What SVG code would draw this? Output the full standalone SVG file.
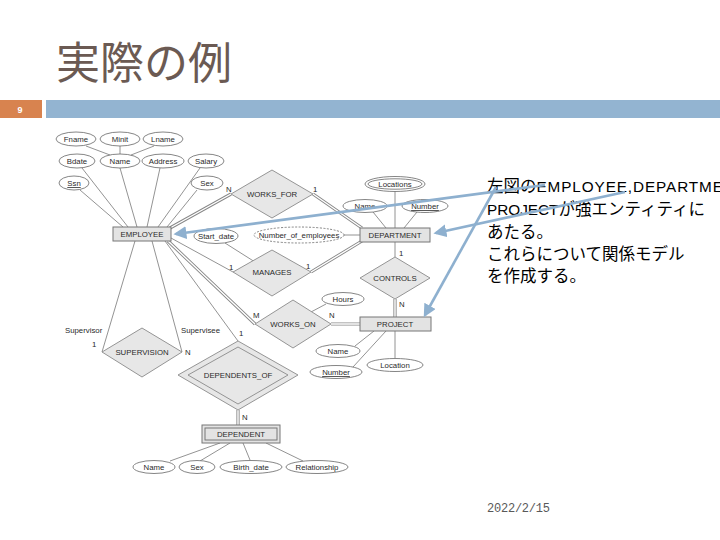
<svg xmlns="http://www.w3.org/2000/svg" width="720" height="540" viewBox="0 0 720 540">
<defs>
<style>
.ent{fill:#e3e3e3;stroke:#777;stroke-width:1}
.rel{fill:#e7e7e7;stroke:#8a8a8a;stroke-width:0.9}
.att{fill:#fff;stroke:#666;stroke-width:0.8}
.ln{stroke:#777;stroke-width:0.8;fill:none}
.dbl{stroke:#888;stroke-width:3.2;fill:none}
.dbw{stroke:#fff;stroke-width:1.4;fill:none}
.t{font-family:"Liberation Sans",Arial,sans-serif;font-size:7.8px;fill:#2a2a2a;text-anchor:middle}
.tl{font-family:"Liberation Sans",Arial,sans-serif;font-size:7.8px;fill:#2a2a2a}
.jp{font-family:"Liberation Sans","Noto Sans CJK JP",sans-serif;font-size:16.5px;fill:#000}
.lat{font-size:15.3px}
.arr{stroke:#8eb0cf;stroke-width:2.6;fill:none;marker-end:url(#ah)}
</style>
<marker id="ah" markerWidth="5" markerHeight="5" refX="4" refY="2.5" orient="auto" markerUnits="strokeWidth">
<path d="M0,0 L5,2.5 L0,5 Z" fill="#8eb0cf"/>
</marker>
</defs>
<rect width="720" height="540" fill="#fff"/>
<g id="title">
<text x="56" y="79" font-family="Noto Sans CJK JP,sans-serif" font-size="44" fill="#6b5a53">実際の例</text>
</g>
<g id="header-bar">
<rect x="0" y="100" width="42" height="18" fill="#d8834f"/>
<text x="20" y="113" font-family="Liberation Sans,Arial,sans-serif" font-size="9" font-weight="bold" fill="#fff" text-anchor="middle">9</text>
<rect x="46" y="100" width="674" height="18" fill="#93b4d1"/>
</g>
<g id="connectors">
<line class="ln" x1="86" y1="146" x2="110" y2="155"/>
<line class="ln" x1="120" y1="146" x2="120" y2="154"/>
<line class="ln" x1="154" y1="146" x2="131" y2="155"/>
<line class="ln" x1="82" y1="168" x2="128" y2="227"/>
<line class="ln" x1="120" y1="168" x2="137" y2="227"/>
<line class="ln" x1="160" y1="168" x2="147" y2="227"/>
<line class="ln" x1="200" y1="168" x2="158" y2="227"/>
<line class="ln" x1="80" y1="190" x2="123" y2="227"/>
<line class="ln" x1="197" y1="190" x2="167" y2="227"/>
<line class="ln" x1="395" y1="191" x2="395" y2="228"/>
<line class="ln" x1="373" y1="212" x2="386" y2="228"/>
<line class="ln" x1="417" y1="212" x2="404" y2="228"/>
<line class="ln" x1="374" y1="331" x2="355" y2="346"/>
<line class="ln" x1="386" y1="331" x2="353" y2="367"/>
<line class="ln" x1="395" y1="331" x2="395" y2="358"/>
<line class="ln" x1="220" y1="443" x2="170" y2="461"/>
<line class="ln" x1="230" y1="443" x2="200" y2="461"/>
<line class="ln" x1="243" y1="443" x2="250" y2="460"/>
<line class="ln" x1="266" y1="443" x2="303" y2="461"/>
<line class="ln" x1="171" y1="238" x2="233" y2="272"/>
<line class="ln" x1="225" y1="243" x2="255" y2="262"/>
<line class="ln" x1="344" y1="235" x2="360" y2="235"/>
<line class="ln" x1="395" y1="242" x2="395" y2="257"/>
<line class="ln" x1="326" y1="304" x2="311" y2="312"/>
<line class="ln" x1="135" y1="241" x2="102" y2="352"/>
<line class="ln" x1="152" y1="241" x2="182" y2="352"/>
<line class="ln" x1="165" y1="241" x2="238" y2="341"/>
<path class="dbl" d="M170,228 L231,194 M313,194 L362,228 M311,272 L362,241 M168,241 L255,324 M331,324 L360,324 M395,299 L395,317 M238,410 L238,425"/>
<path class="dbw" d="M170,228 L231,194 M313,194 L362,228 M311,272 L362,241 M168,241 L255,324 M331,324 L360,324 M395,299 L395,317 M238,410 L238,425"/>
</g>
<g id="cardinalities" class="tl">
<text x="226" y="192">N</text>
<text x="313" y="192">1</text>
<text x="229" y="270">1</text>
<text x="306" y="269">1</text>
<text x="253" y="318">M</text>
<text x="329" y="318">N</text>
<text x="399" y="256">1</text>
<text x="399" y="307">N</text>
<text x="92" y="347">1</text>
<text x="185" y="355">N</text>
<text x="239" y="336">1</text>
<text x="242" y="420">N</text>
<text x="65" y="333">Supervisor</text>
<text x="181" y="333">Supervisee</text>
</g>
<g id="Fname"><ellipse class="att" cx="76" cy="139" rx="20" ry="7"/><text class="t" x="76" y="142">Fname</text></g>
<g id="Minit"><ellipse class="att" cx="120" cy="139" rx="20" ry="7"/><text class="t" x="120" y="142">Minit</text></g>
<g id="Lname"><ellipse class="att" cx="163" cy="139" rx="20" ry="7"/><text class="t" x="163" y="142">Lname</text></g>
<g id="Bdate"><ellipse class="att" cx="77" cy="161" rx="18" ry="7"/><text class="t" x="77" y="164">Bdate</text></g>
<g id="EmpName"><ellipse class="att" cx="120" cy="161" rx="20" ry="7"/><text class="t" x="120" y="164">Name</text></g>
<g id="Address"><ellipse class="att" cx="163" cy="161" rx="21" ry="7"/><text class="t" x="163" y="164">Address</text></g>
<g id="Salary"><ellipse class="att" cx="206" cy="161" rx="18" ry="7"/><text class="t" x="206" y="164">Salary</text></g>
<g id="Ssn"><ellipse class="att" cx="74" cy="183" rx="15" ry="7"/><text class="t" x="74" y="186" text-decoration="underline">Ssn</text></g>
<g id="EmpSex"><ellipse class="att" cx="207" cy="183" rx="16" ry="7"/><text class="t" x="207" y="186">Sex</text></g>
<g id="EMPLOYEE"><rect class="ent" x="113" y="227" width="58" height="14"/><text class="t" x="142" y="237">EMPLOYEE</text></g>
<g id="WORKS_FOR"><polygon class="rel" points="272,170 313,194 272,218 231,194"/><text class="t" x="272" y="197">WORKS_FOR</text></g>
<g id="Locations"><ellipse class="att" cx="395" cy="184" rx="30" ry="7.5"/><ellipse class="att" cx="395" cy="184" rx="27" ry="5.2"/><text class="t" x="395" y="187">Locations</text></g>
<g id="DeptName"><ellipse class="att" cx="365" cy="206" rx="22" ry="6.5"/><text class="t" x="365" y="209">Name</text></g>
<g id="DeptNumber"><ellipse class="att" cx="425" cy="206" rx="23" ry="6.5"/><text class="t" x="425" y="209" text-decoration="underline">Number</text></g>
<g id="DEPARTMENT"><rect class="ent" x="360" y="228" width="70" height="14"/><text class="t" x="395" y="238">DEPARTMENT</text></g>
<g id="Start_date"><ellipse class="att" cx="216" cy="236" rx="22" ry="7.5"/><text class="t" x="216" y="239">Start_date</text></g>
<g id="Number_of_employees"><ellipse class="att" cx="299" cy="235" rx="45" ry="8" stroke-dasharray="2,1.5"/><text class="t" x="299" y="238">Number_of_employees</text></g>
<g id="MANAGES"><polygon class="rel" points="272,250 311,272 272,296 233,272"/><text class="t" x="272" y="275">MANAGES</text></g>
<g id="CONTROLS"><polygon class="rel" points="395,257 430,278 395,299 360,278"/><text class="t" x="395" y="281">CONTROLS</text></g>
<g id="Hours"><ellipse class="att" cx="343" cy="299" rx="21" ry="6.5"/><text class="t" x="343" y="302">Hours</text></g>
<g id="WORKS_ON"><polygon class="rel" points="293,300 331,324 293,348 255,324"/><text class="t" x="293" y="327">WORKS_ON</text></g>
<g id="PROJECT"><rect class="ent" x="360" y="317" width="71" height="14"/><text class="t" x="395" y="327">PROJECT</text></g>
<g id="ProjName"><ellipse class="att" cx="338" cy="351" rx="22" ry="6.5"/><text class="t" x="338" y="354">Name</text></g>
<g id="ProjNumber"><ellipse class="att" cx="336" cy="372" rx="26" ry="6.5"/><text class="t" x="336" y="375" text-decoration="underline">Number</text></g>
<g id="Location"><ellipse class="att" cx="395" cy="365" rx="28" ry="6.5"/><text class="t" x="395" y="368">Location</text></g>
<g id="SUPERVISION"><polygon class="rel" points="142,328 182,352 142,377 102,352"/><text class="t" x="142" y="355">SUPERVISION</text></g>
<g id="DEPENDENTS_OF"><polygon class="rel" points="238,341 298,375 238,410 178,375"/><polygon class="rel" points="238,347 288,375 238,404 188,375"/><text class="t" x="238" y="378">DEPENDENTS_OF</text></g>
<g id="DEPENDENT"><rect class="ent" x="202" y="425" width="78" height="18"/><rect class="ent" x="205" y="428" width="72" height="12"/><text class="t" x="241" y="437">DEPENDENT</text></g>
<g id="DepName"><ellipse class="att" cx="154" cy="467" rx="21" ry="6.5"/><text class="t" x="154" y="470">Name</text></g>
<g id="DepSex"><ellipse class="att" cx="197" cy="467" rx="18" ry="6.5"/><text class="t" x="197" y="470">Sex</text></g>
<g id="Birth_date"><ellipse class="att" cx="251" cy="467" rx="31" ry="6.5"/><text class="t" x="251" y="470">Birth_date</text></g>
<g id="Relationship"><ellipse class="att" cx="317" cy="467" rx="31" ry="6.5"/><text class="t" x="317" y="470">Relationship</text></g>
<g id="note">
<text class="jp" x="487" y="192">左図の<tspan class="lat" letter-spacing="0.9">EMPLOYEE,DEPARTMENT</tspan></text>
<text class="jp" x="487" y="215"><tspan class="lat">PROJECT</tspan>が強エンティティに</text>
<text class="jp" x="487" y="238">あたる。</text>
<text class="jp" x="487" y="260">これらについて関係モデル</text>
<text class="jp" x="487" y="282">を作成する。</text>
</g>
<g id="arrows">
<line class="arr" x1="545" y1="185" x2="176" y2="234"/>
<line class="arr" x1="625" y1="192" x2="436" y2="233"/>
<line class="arr" x1="496" y1="187" x2="425" y2="315"/>
</g>
<g id="date">
<text x="487" y="512" font-family="Liberation Mono,monospace" font-size="12" fill="#595959" textLength="63">2022/2/15</text>
</g>
</svg>
